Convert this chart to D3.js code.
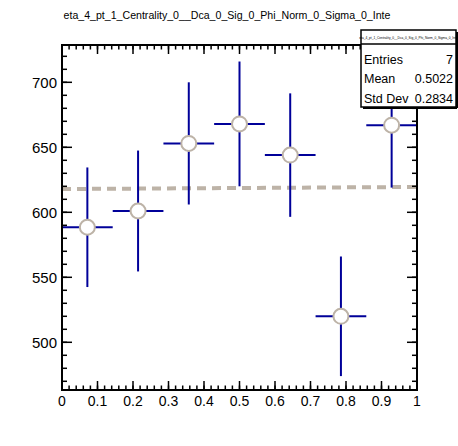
<!DOCTYPE html>
<html><head><meta charset="utf-8">
<script src="https://cdn.jsdelivr.net/npm/d3@7"></script>
<style>body{margin:0;background:#fff}svg{display:block}text{font-family:"Liberation Sans",Arial,sans-serif}</style>
</head><body>
<script>
// ---- data ----
const histTitle = "eta_4_pt_1_Centrality_0__Dca_0_Sig_0_Phi_Norm_0_Sigma_0_Inte";
const statsTitle = "eta_4_pt_1_Centrality_0__Dca_0_Sig_0_Phi_Norm_0_Sigma_0_Inte";
const binLow  = [0.0, 0.142857, 0.285714, 0.428571, 0.571429, 0.714286, 0.857143];
const binHigh = [0.142857, 0.285714, 0.428571, 0.571429, 0.714286, 0.857143, 1.0];
const values  = [588.5, 601, 653, 668, 644, 520, 667];
const errors  = [46, 46.5, 47, 48, 47.5, 46, 48];
const fitX = [0, 1];
const fitY = [617.9, 619.5];
const xTicks = [0, 0.1, 0.2, 0.3, 0.4, 0.5, 0.6, 0.7, 0.8, 0.9, 1];
const xTickLabels = ["0", "0.1", "0.2", "0.3", "0.4", "0.5", "0.6", "0.7", "0.8", "0.9", "1"];
const yTicks = [500, 550, 600, 650, 700];
const yTickLabels = ["500", "550", "600", "650", "700"];
const statLabels = ["Entries", "Mean", "Std Dev"];
const statValues = ["7", "0.5022", "0.2834"];
const xDomain = [0, 1];
const yDomain = [463.3, 728.7];

// ---- layout ----
const W = 458, H = 446;
const L = 62, R = 417, T = 45, B = 390;
const blue = "#000099", tan = "#bdb3a7";

const svg = d3.select("body").append("svg").attr("width", W).attr("height", H);
const x = d3.scaleLinear().domain(xDomain).range([L, R]);
const y = d3.scaleLinear().domain(yDomain).range([B, T]);

// title
svg.append("text").attr("x", 227).attr("y", 19).attr("text-anchor", "middle")
  .attr("font-size", 10.6).text(histTitle);

// fit line
svg.append("line").attr("x1", x(fitX[0])).attr("x2", x(fitX[1]))
  .attr("y1", y(fitY[0])).attr("y2", y(fitY[1]))
  .attr("stroke", tan).attr("stroke-width", 4).attr("stroke-dasharray", "9,6");

// error bars
const g = svg.append("g");
values.forEach((v, i) => {
  const xc = x((binLow[i] + binHigh[i]) / 2);
  g.append("line").attr("x1", x(binLow[i])).attr("x2", x(binHigh[i]))
    .attr("y1", y(v)).attr("y2", y(v)).attr("stroke", blue).attr("stroke-width", 2);
  g.append("line").attr("x1", xc).attr("x2", xc)
    .attr("y1", y(v - errors[i])).attr("y2", y(v + errors[i])).attr("stroke", blue).attr("stroke-width", 2);
});
values.forEach((v, i) => {
  g.append("circle").attr("cx", x((binLow[i] + binHigh[i]) / 2)).attr("cy", y(v)).attr("r", 7.5)
    .attr("fill", "#fff").attr("stroke", tan).attr("stroke-width", 2);
});

// axes
const xMinor = d3.range(0, 1.0001, 0.02);
const yMinor = d3.range(470, 729, 10);
const ax = svg.append("g").attr("stroke", "#000").attr("stroke-width", 1.5);
function xt(vals, len) {
  vals.forEach(v => {
    ax.append("line").attr("x1", x(v)).attr("x2", x(v)).attr("y1", B).attr("y2", B - len);
    ax.append("line").attr("x1", x(v)).attr("x2", x(v)).attr("y1", T).attr("y2", T + len);
  });
}
function yt(vals, len) {
  vals.forEach(v => {
    ax.append("line").attr("y1", y(v)).attr("y2", y(v)).attr("x1", L).attr("x2", L + len);
    ax.append("line").attr("y1", y(v)).attr("y2", y(v)).attr("x1", R).attr("x2", R - len);
  });
}
xt(xMinor, 4.5); xt(xTicks, 9);
yt(yMinor, 5); yt(yTicks, 10);
svg.append("rect").attr("x", L).attr("y", T).attr("width", R - L).attr("height", B - T)
  .attr("fill", "none").attr("stroke", "#000").attr("stroke-width", 2);

xTicks.forEach((v, i) => {
  svg.append("text").attr("x", x(v)).attr("y", 406).attr("text-anchor", "middle")
    .attr("font-size", 14).text(xTickLabels[i]);
});
yTicks.forEach((v, i) => {
  svg.append("text").attr("x", 57).attr("y", y(v) + 5.5).attr("text-anchor", "end")
    .attr("font-size", 15).text(yTickLabels[i]);
});

// stats box
const sx0 = 361, sx1 = 456, sy0 = 30, sy1 = 107, sty = 44;
const sb = svg.append("g");
sb.append("rect").attr("x", sx0).attr("y", sy0).attr("width", sx1 - sx0).attr("height", sy1 - sy0)
  .attr("fill", "#fff").attr("stroke", "#000").attr("stroke-width", 1.5);
sb.append("line").attr("x1", sx0).attr("x2", sx1).attr("y1", sty).attr("y2", sty).attr("stroke", "#000").attr("stroke-width", 1.5);
sb.append("line").attr("x1", sx1 + 1).attr("x2", sx1 + 1).attr("y1", sy0 + 2).attr("y2", sy1 + 1).attr("stroke", "#000").attr("stroke-width", 2);
sb.append("line").attr("x1", sx0 + 2).attr("x2", sx1 + 1).attr("y1", sy1 + 1).attr("y2", sy1 + 1).attr("stroke", "#000").attr("stroke-width", 2);
sb.append("text").attr("x", (sx0 + sx1) / 2).attr("y", 39).attr("text-anchor", "middle")
  .attr("font-size", 3.2).text(statsTitle);
statLabels.forEach((s, i) => {
  const yy = 63.5 + i * 19.5;
  sb.append("text").attr("x", 364).attr("y", yy).attr("font-size", 12.5).text(s);
  sb.append("text").attr("x", 453).attr("y", yy).attr("text-anchor", "end").attr("font-size", 12.5).text(statValues[i]);
});
</script>
</body></html>
